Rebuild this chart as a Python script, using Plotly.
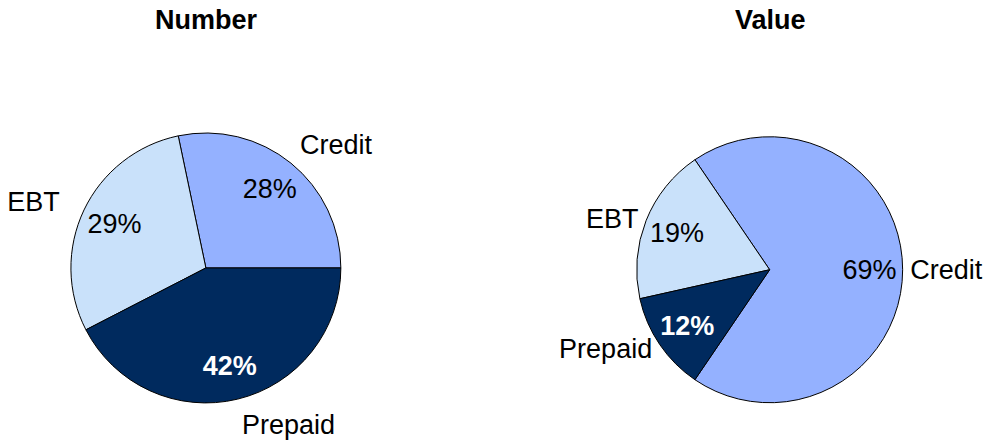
import plotly.graph_objects as go

# ---- data ----
categories = ["Credit", "EBT", "Prepaid"]
number_pct = [28, 29, 42]
value_pct = [69, 19, 12]
panel_titles = ["Number", "Value"]

# ---- style ----
FONT = "Liberation Sans, Arial, sans-serif"
FONT_SIZE = 27
slice_colors = {"Credit": "#94B1FF", "EBT": "#C9E1FA", "Prepaid": "#002A5E"}
dark_slices = {"Prepaid"}
W, H = 990, 445


def pct_text(vals):
    return [f"<b>{v}%</b>" if c in dark_slices else f"{v}%" for c, v in zip(categories, vals)]


def inside_colors():
    return ["white" if c in dark_slices else "black" for c in categories]


def domain(cx, cy, r):
    return dict(x=[(cx - r) / W, (cx + r) / W], y=[(H - cy - r) / H, (H - cy + r) / H])


# pie placement in pixels (center x, center y from top, radius), start angle,
# and how far / which way the category-label ring sits relative to the pie
panels = [
    dict(vals=number_pct, title=panel_titles[0], cx=204.5, cy=271, r=136.5, rot=-11.82,
         lab=12, ldx=-6),
    dict(vals=value_pct, title=panel_titles[1], cx=770, cy=272.8, r=134.5, rot=-34.2,
         lab=0, ldx=0),
]

fig = go.Figure()
for p in panels:
    common = dict(
        labels=categories,
        values=p["vals"],
        sort=False,
        direction="counterclockwise",
        rotation=p["rot"],
        showlegend=False,
    )
    # coloured slices
    fig.add_trace(go.Pie(
        **common,
        domain=domain(p["cx"], p["cy"], p["r"]),
        marker=dict(colors=[slice_colors[c] for c in categories],
                    line=dict(color="black", width=1)),
        textinfo="none",
        hoverinfo="label+value",
    ))
    # percentages, placed in an outer ring of the pie
    fig.add_trace(go.Pie(
        **common,
        domain=domain(p["cx"], p["cy"], p["r"]),
        hole=0.5,
        marker=dict(colors=["rgba(0,0,0,0)"] * len(categories), line=dict(width=0)),
        text=pct_text(p["vals"]),
        textinfo="text",
        textposition="inside",
        insidetextorientation="horizontal",
        insidetextfont=dict(family=FONT, size=FONT_SIZE, color=inside_colors()),
        hoverinfo="skip",
    ))
    # category names outside the pie
    fig.add_trace(go.Pie(
        **common,
        domain=domain(p["cx"] + p["ldx"], p["cy"], p["r"] + p["lab"]),
        marker=dict(colors=["rgba(0,0,0,0)"] * len(categories), line=dict(width=0)),
        textinfo="label",
        textposition="outside",
        outsidetextfont=dict(family=FONT, size=FONT_SIZE, color="black"),
        hoverinfo="skip",
    ))
    fig.add_annotation(
        text=f"<b>{p['title']}</b>", x=(p["cx"] + 1) / W, y=1 - 20 / H,
        xref="paper", yref="paper", xanchor="center", yanchor="middle",
        showarrow=False, font=dict(family=FONT, size=FONT_SIZE, color="black"),
    )

fig.update_layout(
    width=W, height=H,
    margin=dict(l=0, r=0, t=0, b=0),
    paper_bgcolor="white", plot_bgcolor="white",
)

# remove the page's default body margin so the figure fills the window exactly
fig.write_html("out.html", post_script="document.body.style.margin = '0';",
               config={"displayModeBar": False})
